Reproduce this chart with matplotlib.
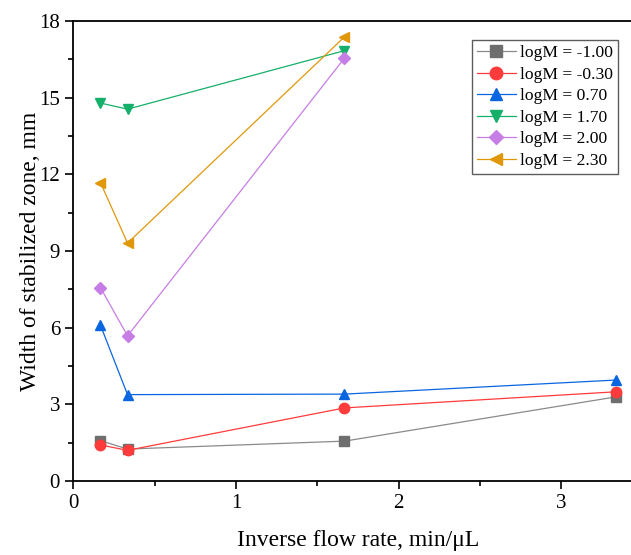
import matplotlib
matplotlib.use("Agg")
import matplotlib.pyplot as plt
from matplotlib.ticker import MultipleLocator

plt.rcParams['font.family'] = ['Liberation Serif', 'DejaVu Serif']
plt.rcParams['mathtext.fontset'] = 'stix'

# inverse flow rate, min/uL
x_all = [1 / 6, 1 / 3, 5 / 3, 10 / 3]
x_hi = [1 / 6, 1 / 3, 5 / 3]

labels = ["logM = -1.00", "logM = -0.30", "logM = 0.70",
          "logM = 1.70", "logM = 2.00", "logM = 2.30"]

w_m100 = [1.58, 1.25, 1.56, 3.29]
w_m030 = [1.41, 1.20, 2.86, 3.49]
w_070 = [6.10, 3.38, 3.40, 3.95]
w_170 = [14.79, 14.55, 16.84]
w_200 = [7.57, 5.68, 16.55]
w_230 = [11.68, 9.31, 17.38]

series = [
    (x_all, w_m100, "#6e6e6e", "#8a8a8a", "s"),
    (x_all, w_m030, "#ff3b3b", "#ff3b3b", "o"),
    (x_all, w_070, "#0a66e0", "#0a66e0", "^"),
    (x_hi, w_170, "#14b06a", "#14b06a", "v"),
    (x_hi, w_200, "#c77de6", "#c77de6", "D"),
    (x_hi, w_230, "#e0980a", "#e0980a", "<"),
]

fig = plt.figure(figsize=(6.31, 5.55), dpi=100)
ax = fig.add_axes([73.3 / 631, 1 - 481 / 555, 569.5 / 631, 460 / 555])

for (xs, ys, mc, lc, mk), lab in zip(series, labels):
    ms = 6.0 if mk == "D" else 7.5
    ax.plot(xs, ys, color=lc, lw=0.9, marker=mk, markersize=ms,
            markerfacecolor=mc, markeredgecolor=mc, label=lab)

ax.set_xlim(0, 3.5)
ax.set_ylim(0, 18)
ax.xaxis.set_major_locator(MultipleLocator(1))
ax.xaxis.set_minor_locator(MultipleLocator(0.5))
ax.yaxis.set_major_locator(MultipleLocator(3))
ax.yaxis.set_minor_locator(MultipleLocator(1.5))
ax.tick_params(which='both', direction='out', width=1.2, labelsize=15)
ax.tick_params(which='major', length=6)
ax.tick_params(which='minor', length=3.5)
for s in ax.spines.values():
    s.set_linewidth(1.3)

ax.set_xlabel("Inverse flow rate, min/μL", fontsize=17, labelpad=12)
ax.set_ylabel("Width of stabilized zone, mm", fontsize=17, labelpad=-1)

leg = ax.legend(loc='upper left', bbox_to_anchor=(0.700, 0.9587), fontsize=12.6,
                frameon=True, fancybox=False, edgecolor='#333333',
                handlelength=2.2, labelspacing=0.3, borderpad=0.3,
                handletextpad=0.25, borderaxespad=0.0, markerscale=1.2)
leg.get_frame().set_linewidth(1.0)

fig.savefig("out.png", dpi=100)
